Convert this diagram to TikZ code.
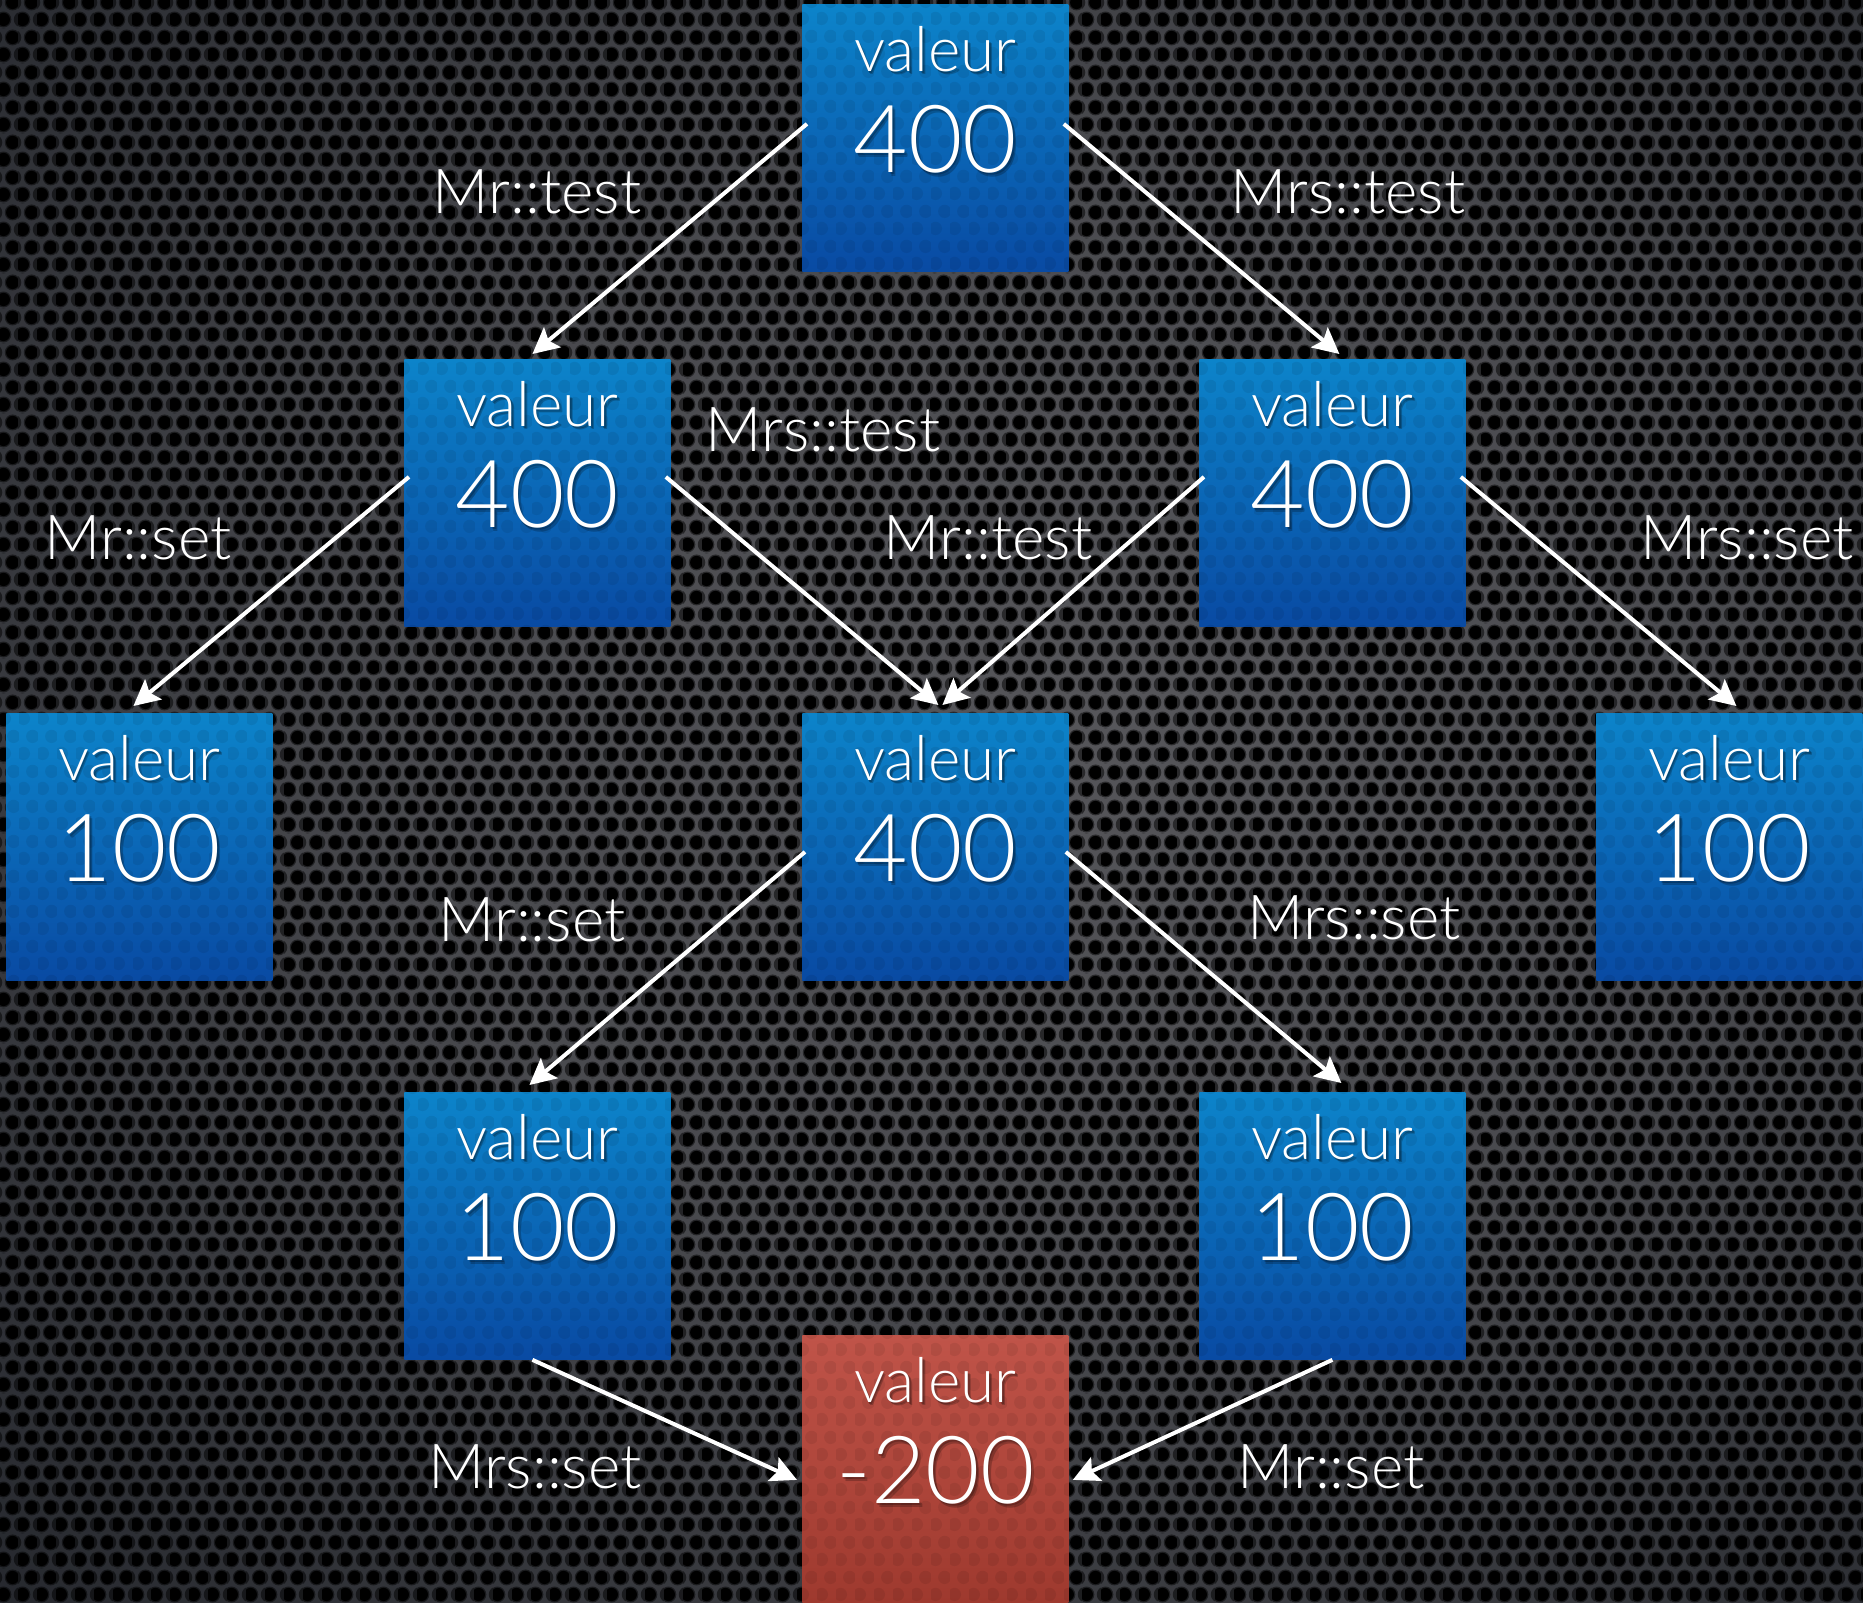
\documentclass[tikz,border=0pt]{standalone}
\usepackage{fontspec}
\IfFontExistsTF{Lato Light}{\setmainfont{Lato Light}}{\setmainfont{TeX Gyre Heros}}
\usetikzlibrary{arrows.meta,patterns,calc}

% colours
\definecolor{bgA}{RGB}{86,86,90}
\definecolor{bgB}{RGB}{26,29,35}
\definecolor{blueT}{RGB}{12,132,202}
\definecolor{blueB}{RGB}{9,74,163}
\definecolor{redT}{RGB}{192,84,73}
\definecolor{redB}{RGB}{158,57,46}

% perforated metal: staggered round holes
\pgfdeclarepatternformonly{perfsoft}{\pgfpointorigin}{\pgfpoint{9.5pt}{17.5pt}}{\pgfpoint{9.5pt}{17.5pt}}{%
  \pgfpathcircle{\pgfpoint{2.375pt}{4.375pt}}{4.1pt}%
  \pgfpathcircle{\pgfpoint{7.125pt}{13.125pt}}{4.1pt}%
  \pgfpathcircle{\pgfpoint{-2.375pt}{13.125pt}}{4.1pt}%
  \pgfpathcircle{\pgfpoint{11.875pt}{4.375pt}}{4.1pt}%
  \pgfpathcircle{\pgfpoint{7.125pt}{-4.375pt}}{4.1pt}%
  \pgfpathcircle{\pgfpoint{2.375pt}{21.875pt}}{4.1pt}%
  \pgfusepath{fill}}
\pgfdeclarepatternformonly{perf}{\pgfpointorigin}{\pgfpoint{9.5pt}{17.5pt}}{\pgfpoint{9.5pt}{17.5pt}}{%
  \pgfpathcircle{\pgfpoint{2.375pt}{4.375pt}}{3.4pt}%
  \pgfpathcircle{\pgfpoint{7.125pt}{13.125pt}}{3.4pt}%
  \pgfusepath{fill}}

\pgfdeclareradialshading{bgglow}{\pgfpoint{5bp}{3bp}}{%
  color(0bp)=(bgA); color(18bp)=(bgA!78!bgB); color(46bp)=(bgB); color(100bp)=(bgB)}

\tikzset{
  box/.style={inner sep=0pt, minimum width=133pt, minimum height=133.5pt, anchor=north west},
  word/.style={text=white, font=\fontsize{31}{31}\selectfont, inner sep=0pt, anchor=base},
  num/.style={text=white, font=\fontsize{47}{47}\selectfont, inner sep=0pt, anchor=base},
  shadowtxt/.style={text=black, text opacity=0.22},
  lbl/.style={text=white, font=\fontsize{31}{31}\selectfont, inner sep=0pt, anchor=base},
  arr/.style={draw=white, line width=2pt,
    -{Stealth[length=13pt, width=13pt, inset=2.5pt]}},
}

% a value box: name, left, top, number, top colour, bottom colour
\newcommand\valbox[6]{%
  \node[box, top color=#5, bottom color=#6] (#1) at (#2,#3) {};
  \fill[pattern=perf, pattern color=black, fill opacity=0.07]
    (#1.south west) rectangle (#1.north east);
  % soft drop shadow under the texts
  \node[word, shadowtxt] (#1-ws1) at ([xshift=0.7pt,yshift=-34.5pt]#1.north) {valeur};
  \node[word, shadowtxt] (#1-ws2) at ([xshift=1.4pt,yshift=-35.3pt]#1.north) {valeur};
  \node[num, shadowtxt] (#1-ns1) at ([xshift=0.8pt,yshift=-85.2pt]#1.north) {#4};
  \node[num, shadowtxt] (#1-ns2) at ([xshift=1.6pt,yshift=-86.2pt]#1.north) {#4};
  \node[word] (#1-w) at ([yshift=-33.5pt]#1.north) {valeur};
  \node[num] (#1-n) at ([yshift=-84pt]#1.north) {#4};
}

\begin{document}
\begin{tikzpicture}[x=0.5pt, y=-0.5pt]
  \path[use as bounding box] (0,0) rectangle (1863,1602);

  % background: glowing grey sheet with holes
  \shade[shading=bgglow] (0,0) rectangle (1863,1602);
  \fill[pattern=perfsoft, pattern color=black, fill opacity=0.5] (0,0) rectangle (1863,1602);
  \fill[pattern=perf, pattern color=black] (0,0) rectangle (1863,1602);

  % boxes
  \valbox{top}{802}{4}{400}{blueT}{blueB}
  \valbox{L1}{404}{359}{400}{blueT}{blueB}
  \valbox{R1}{1199}{359}{400}{blueT}{blueB}
  \valbox{LL}{6}{713}{100}{blueT}{blueB}
  \valbox{C}{802}{713}{400}{blueT}{blueB}
  \valbox{RR}{1596}{713}{100}{blueT}{blueB}
  \valbox{L3}{404}{1092}{100}{blueT}{blueB}
  \valbox{R3}{1199}{1092}{100}{blueT}{blueB}
  \valbox{red}{802}{1335}{-200}{redT}{redB}

  % transitions
  \draw[arr] ([shift={(5,-14)}]top.west) -- ([shift={(-5,-5)}]L1.north);
  \draw[arr] ([shift={(-5,-14)}]top.east) -- ([shift={(7,-5)}]R1.north);
  \draw[arr] ([shift={(5,-16)}]L1.west) -- ([shift={(-6,-7)}]LL.north);
  \draw[arr] ([shift={(-5,-16)}]L1.east) -- ([shift={(3,-8)}]C.north);
  \draw[arr] ([shift={(5,-16)}]R1.west) -- ([shift={(7,-8)}]C.north);
  \draw[arr] ([shift={(-5,-16)}]R1.east) -- ([shift={(7,-7)}]RR.north);
  \draw[arr] ([shift={(3,5)}]C.west) -- ([shift={(-8,-7)}]L3.north);
  \draw[arr] ([shift={(-3,5)}]C.east) -- ([shift={(9,-9)}]R3.north);
  \draw[arr] ([shift={(-5,0)}]L3.south) -- ([shift={(-5,11)}]red.west);
  \draw[arr] ([shift={(0,0)}]R3.south) -- ([shift={(4,11)}]red.east);

  % labels
  \node[lbl] (t1) at (537,213) {Mr::test};
  \node[lbl] (t2) at (1348,213) {Mrs::test};
  \node[lbl] (t3) at (138,559) {Mr::set};
  \node[lbl] (t4) at (823,451) {Mrs::test};
  \node[lbl] (t5) at (988,559) {Mr::test};
  \node[lbl] (t6) at (1747,559) {Mrs::set};
  \node[lbl] (t7) at (532,941) {Mr::set};
  \node[lbl] (t8) at (1354,939) {Mrs::set};
  \node[lbl] (t9) at (535,1488) {Mrs::set};
  \node[lbl] (t10) at (1331,1488) {Mr::set};
\end{tikzpicture}
\end{document}
